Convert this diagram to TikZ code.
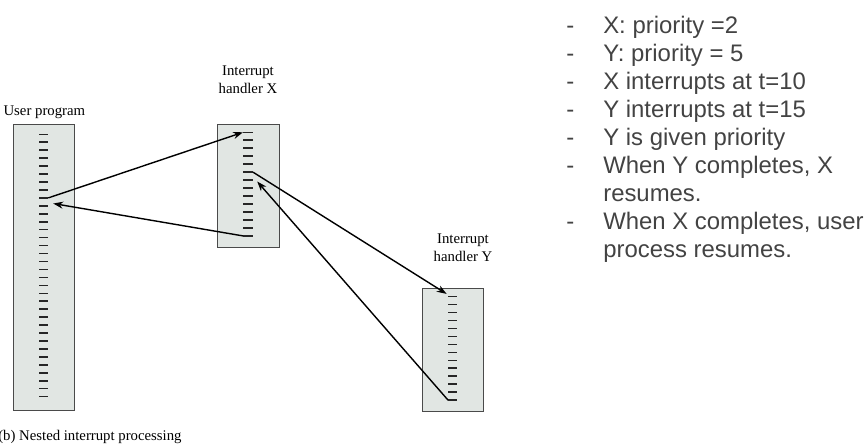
\documentclass[tikz,border=0pt]{standalone}
\usepackage{fontspec}
\setmainfont{Liberation Serif}
\newfontfamily\listfont{Liberation Sans}
\usetikzlibrary{arrows.meta}

\definecolor{boxfill}{HTML}{E1E6E3}
\definecolor{boxline}{HTML}{4A4A4A}
\definecolor{listgray}{HTML}{434343}

\tikzset{
  prog/.style={draw=boxline,fill=boxfill,line width=0.8pt,inner sep=0pt,anchor=north west},
  tick/.style={line width=1.1pt,black!85},
  flow/.style={line width=1pt,-{Stealth[length=7pt,width=5pt]}},
  lbl/.style={font=\fontsize{10.5}{12.8}\selectfont,align=center,inner sep=0pt},
  item/.style={font=\listfont\fontsize{17}{20}\selectfont,text=listgray,inner sep=0pt,anchor=base west}
}

\begin{document}
\begin{tikzpicture}[x=0.025cm,y=-0.025cm]
  \useasboundingbox (0,0) rectangle (866,447);

  % program columns
  \node[prog,minimum width=1.525cm,minimum height=7.15cm]  (user) at (12.7,124) {};
  \node[prog,minimum width=1.55cm,minimum height=3.075cm]  (hx)   at (217,124)  {};
  \node[prog,minimum width=1.525cm,minimum height=3.075cm] (hy)   at (422,288)  {};

  % instruction ticks
  \foreach \i in {0,...,33}
    \draw[tick] (39.3,134.3+7.95*\i) coordinate (uL\i) -- ++(9,0) coordinate (uR\i);
  \foreach \i in {0,...,13}
    \draw[tick] (243,132.3+7.97*\i) coordinate (xL\i) -- ++(10,0) coordinate (xR\i);
  \foreach \i in {0,...,13}
    \draw[tick] (448,296.7+7.95*\i) coordinate (yL\i) -- ++(9,0) coordinate (yR\i);

  % labels
  \node[lbl,anchor=base west] (userlbl) at (3.3,115.7) {User program};
  \node[lbl,anchor=base] (hxlbl) at (248,93) {Interrupt\\handler X};
  \node[lbl,anchor=base] (hylbl) at (463,261.7) {Interrupt\\handler Y};
  \node[lbl,anchor=base west] (caption) at (-2,440.7) {(b) Nested interrupt processing};

  % control transfers
  \draw[flow] (uR8) -- (xL0);
  \draw[flow] (xL13) -- ([xshift=3.5pt,yshift=-4pt]uR8);
  \draw[flow] (xR5) -- ([xshift=-1pt,yshift=2pt]yL0);
  \draw[flow] (yL13) -- ([xshift=3pt,yshift=-1pt]xR6);

  % notes
  \foreach \d/\t [count=\n] in {-/{X: priority =2},-/{Y: priority = 5},-/{X interrupts at t=10},
      -/{Y interrupts at t=15},-/{Y is given priority},-/{When Y completes, X},/{resumes.},
      -/{When X completes, user},/{process resumes.}}{
    \node[item] (d\n) at (566,5.3+28*\n) {\d};
    \node[item] (i\n) at (603,5.3+28*\n) {\t};
  }
\end{tikzpicture}
\end{document}
